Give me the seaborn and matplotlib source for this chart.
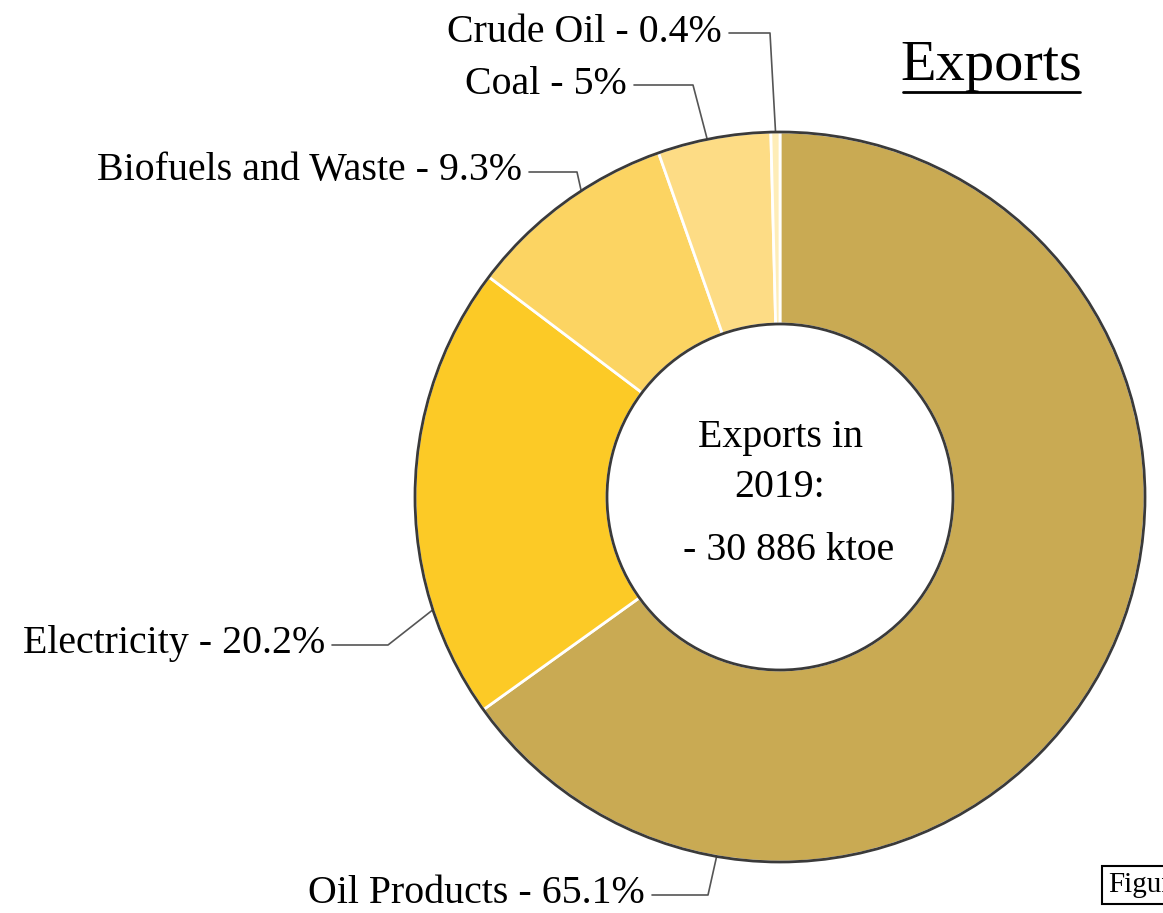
import numpy as np
import matplotlib
matplotlib.use("Agg")
import matplotlib.pyplot as plt
import seaborn as sns

# Export shares 2019 (percent), clockwise from the top
categories = ["Oil Products", "Electricity", "Biofuels and Waste", "Coal", "Crude Oil"]
shares = [65.1, 20.2, 9.3, 5, 0.4]
share_labels = ["65.1%", "20.2%", "9.3%", "5%", "0.4%"]
colors = ["#C9AA53", "#FCCA26", "#FCD462", "#FDDC85", "#FEEDB8"]

title = "Exports"
center_lines = ["Exports in", "2019:"]
total_text = "- 30 886 ktoe"

sns.set_theme(style="white")
plt.rcParams["font.family"] = ["Liberation Serif", "DejaVu Serif"]

W, H = 1163, 913
fig = plt.figure(figsize=(W / 100, H / 100), dpi=100)
ax = fig.add_axes([0, 0, 1, 1])

cx, cy = 780, H - 497
r_out, r_in = 365, 173

ax.pie(shares, colors=colors, startangle=90, counterclock=False,
       center=(cx, cy), radius=r_out, frame=True,
       wedgeprops=dict(width=r_out - r_in, edgecolor="white", linewidth=2))
ax.set_xlim(0, W)
ax.set_ylim(0, H)
ax.set_aspect("equal")
ax.axis("off")

# dark rims
for r in (r_out, r_in):
    ax.add_patch(plt.Circle((cx, cy), r, fill=False, edgecolor="#3a3a3a", lw=2, zorder=5))

# label layout: anchor angle on the rim, elbow point, text end
layout = {
    "Crude Oil": (90.7, (770, 33), (722, 32)),
    "Coal": (101.5, (693, 85), (627, 84)),
    "Biofuels and Waste": (123, (577, 172), (522, 170)),
    "Electricity": (198, (388, 645), (325, 643)),
    "Oil Products": (260, (708, 895), (645, 893)),
}
fs = 28.7
for cat, lab in zip(categories, share_labels):
    ang, (ex, ey), (tx, ty) = layout[cat]
    a = np.deg2rad(ang)
    px, py = cx + r_out * np.cos(a), cy + r_out * np.sin(a)
    ax.plot([px, ex, tx + 7], [py, H - ey, H - ey], color="#555555", lw=1.2, zorder=4)
    ax.text(tx, H - ty, f"{cat} - {lab}", ha="right", va="center", fontsize=fs, color="black")

# centre text
ax.text(cx, H - 437, center_lines[0], ha="center", va="center", fontsize=fs, color="black")
ax.text(cx, H - 487, center_lines[1], ha="center", va="center", fontsize=fs, color="black")
ax.text(cx + 9, H - 550, total_text, ha="center", va="center", fontsize=fs, color="black")

# underlined title
ax.text(991, H - 66, title, ha="center", va="center", fontsize=42, color="black")
ax.plot([903, 1080], [H - 92, H - 92], color="black", lw=2)

# figure caption box, partly cut off at the right edge
ax.text(1108, H - 885, "Figure", ha="left", va="center", fontsize=21, color="black",
        bbox=dict(boxstyle="square,pad=0.2", facecolor="white", edgecolor="black", lw=1.5))

fig.savefig("out.png", dpi=100)
